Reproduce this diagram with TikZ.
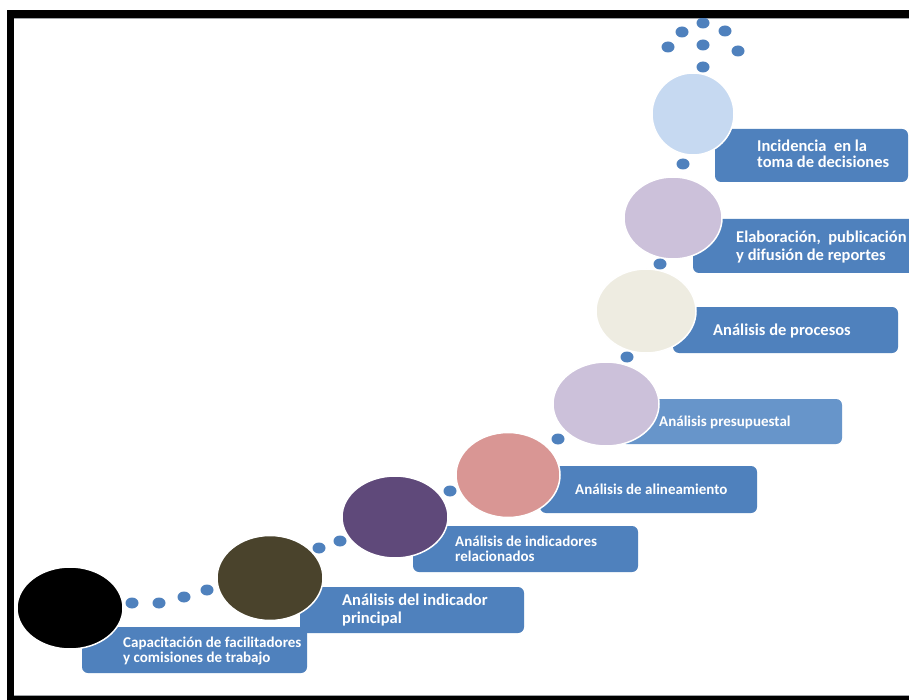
\documentclass[tikz,border=0pt]{standalone}
\usepackage{fontspec}
\setmainfont{Carlito}
\usetikzlibrary{shapes.geometric}
\definecolor{boxblue}{HTML}{4F81BD}
\definecolor{boxlight}{HTML}{6795CA}
\definecolor{cBlack}{HTML}{000000}
\definecolor{cOlive}{HTML}{4A432C}
\definecolor{cPurple}{HTML}{5F497A}
\definecolor{cPink}{HTML}{D99694}
\definecolor{cLav}{HTML}{CCC1DA}
\definecolor{cCream}{HTML}{EEECE1}
\definecolor{cSky}{HTML}{C6D9F1}
\definecolor{rim}{HTML}{A0A4A8}
\begin{document}
\begin{tikzpicture}[x=1pt,y=-1pt,
  panel/.style={fill=boxblue, rounded corners=6pt},
  ball/.style={ellipse, draw=white, line width=1.5pt, inner sep=0pt},
  bead/.style={ellipse, fill=boxblue, inner sep=0pt, minimum width=13pt, minimum height=11pt},
  lblA/.style={anchor=base west, inner sep=0pt, text=white, font=\bfseries\fontsize{15}{15}\selectfont},
  lblB/.style={anchor=base west, inner sep=0pt, text=white, font=\bfseries\fontsize{16.5}{18}\selectfont}]
\useasboundingbox (0,0) rectangle (909,700);
\fill[white] (0,0) rectangle (909,700);
% frame
\fill[black] (7,10) rectangle (909,18);
\fill[black] (7,10) rectangle (14,700);
\fill[black] (7,696) rectangle (909,700);
\draw[rim, line width=1pt] (14,19) -- (909,19);
\draw[rim, line width=1pt] (14,695) -- (909,695);

% boxes
\fill[panel] (82,627) rectangle (307,673);
\fill[panel] (300,587) rectangle (524,633);
\fill[panel] (413,526) rectangle (638,572);
\fill[panel] (540,466) rectangle (757,513);
\fill[boxlight, rounded corners=6pt] (620,399) rectangle (842,444);
\fill[panel] (673,307) rectangle (898,353);
\fill[panel] (693,219) rectangle (925,273);
\fill[panel] (715,129) rectangle (908,182);

% balls
\node[ball, fill=cBlack, minimum width=106pt, minimum height=82pt] (b1) at (70,608) {};
\node[ball, fill=cOlive, minimum width=106pt, minimum height=85pt] (b2) at (270,578) {};
\node[ball, fill=cPurple, minimum width=106pt, minimum height=82pt] (b3) at (395,517) {};
\node[ball, fill=cPink, minimum width=104pt, minimum height=85pt] (b4) at (508,475) {};
\node[ball, fill=cLav, minimum width=106pt, minimum height=84pt] (b5) at (606,404) {};
\node[ball, fill=cCream, minimum width=100pt, minimum height=84pt] (b6) at (646,311) {};
\node[ball, fill=cLav, minimum width=98pt, minimum height=82pt] (b7) at (673,218) {};
\node[ball, fill=cSky, minimum width=82pt, minimum height=82pt] (b8) at (693,114) {};

% beads
\node[bead] (d1) at (132,603) {};
\node[bead] (d2) at (159,603) {};
\node[bead] (d3) at (184,597) {};
\node[bead] (d4) at (207,590) {};
\node[bead] (d5) at (319,548) {};
\node[bead] (d6) at (340,541) {};
\node[bead] (d7) at (450,491) {};
\node[bead] (d8) at (558,439) {};
\node[bead] (d9) at (627,357) {};
\node[bead] (d10) at (660,264) {};
\node[bead] (d11) at (683,164) {};
\node[bead] (d12) at (703,67) {};
\node[bead] (d13) at (668,47) {};
\node[bead] (d14) at (703,45) {};
\node[bead] (d15) at (738,51) {};
\node[bead] (d16) at (682,32) {};
\node[bead] (d17) at (725,31) {};
\node[bead] (d18) at (703,23) {};
\fill[black] (400,10) rectangle (909,18);

% labels
\node[lblA] (t1a) at (123,647) {Capacitación de facilitadores};
\node[lblA] (t1b) at (123,662) {y comisiones de trabajo};
\node[lblB] (t2a) at (342,605) {Análisis del indicador};
\node[lblB] (t2b) at (342,623) {principal};
\node[lblA] (t3a) at (455,546) {Análisis de indicadores};
\node[lblA] (t3b) at (455,561) {relacionados};
\node[lblA] (t4) at (575,494) {Análisis de alineamiento};
\node[lblA] (t5) at (659,426) {Análisis presupuestal};
\node[lblB] (t6) at (713,335) {Análisis de procesos};
\node[lblB] (t7a) at (736,243) {Elaboración,\ \ publicación};
\node[lblB] (t7b) at (736,261) {y difusión de reportes};
\node[lblB] (t8a) at (757,152) {Incidencia\ \ en la};
\node[lblB] (t8b) at (757,168) {toma de decisiones};
\end{tikzpicture}
\end{document}
